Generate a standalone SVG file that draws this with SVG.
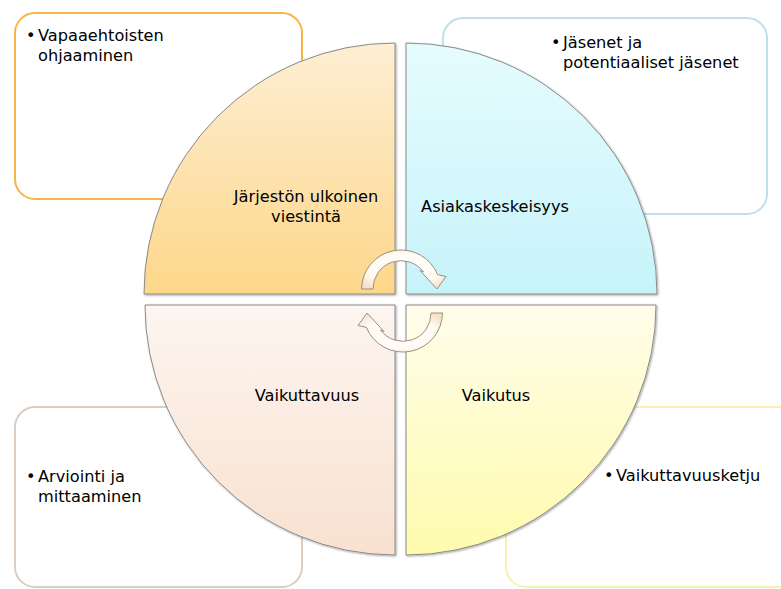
<svg xmlns="http://www.w3.org/2000/svg" width="781" height="589" viewBox="0 0 781 589">
  <defs>
    <style>
      text { font-family: "DejaVu Sans", "Liberation Sans", sans-serif; font-size: 16.2px; fill: #000; }
      .lbl { text-anchor: middle; }
      .box { fill: #fff; stroke-width: 2; }
      .quad { stroke: #8a8a8a; stroke-width: 1; filter: url(#shadow); }
      .arrow { fill: url(#gArrow); stroke: #9a8f82; stroke-width: 1; }
    </style>
    <filter id="shadow" x="-5%" y="-5%" width="110%" height="110%">
      <feDropShadow dx="1" dy="1" stdDeviation="0.8" flood-color="#000" flood-opacity="0.35"/>
    </filter>
    <linearGradient id="gTL" x1="0" y1="0" x2="0" y2="1">
      <stop offset="0" stop-color="#feeed3"/>
      <stop offset="1" stop-color="#fdd78a"/>
    </linearGradient>
    <linearGradient id="gTR" x1="0" y1="0" x2="0" y2="1">
      <stop offset="0" stop-color="#e6fcfe"/>
      <stop offset="1" stop-color="#c6f3fa"/>
    </linearGradient>
    <linearGradient id="gBL" x1="0" y1="0" x2="0" y2="1">
      <stop offset="0" stop-color="#fdf5f0"/>
      <stop offset="1" stop-color="#f8e1d0"/>
    </linearGradient>
    <linearGradient id="gBR" x1="0" y1="0" x2="0" y2="1">
      <stop offset="0" stop-color="#fffdea"/>
      <stop offset="1" stop-color="#fffbad"/>
    </linearGradient>
    <radialGradient id="gArrow" cx="0.5" cy="0.5" r="0.6">
      <stop offset="0" stop-color="#ffffff"/>
      <stop offset="0.7" stop-color="#fffaf3"/>
      <stop offset="1" stop-color="#f4e2c8"/>
    </radialGradient>
    <!-- clockwise half-turn arrow, reused for both turns -->
    <path id="turn" d="M361.5,289 A39.5,39.5 0 0 1 437.6,274.6 L446,276.5 L437,289 L420,270.5 L423.5,272 A28,28 0 0 0 373,289 Z"/>
  </defs>

  <!-- corner boxes -->
  <g id="box-tl">
    <rect class="box" x="15" y="13" width="287" height="186" rx="20" stroke="#f9b447"/>
    <text x="26" y="41">•</text>
    <text x="38" y="41">Vapaaehtoisten</text>
    <text x="38" y="61">ohjaaminen</text>
  </g>
  <g id="box-tr">
    <rect class="box" x="443" y="18" width="324" height="196" rx="20" stroke="#bde0ec"/>
    <text x="551" y="48">•</text>
    <text x="563" y="48">Jäsenet ja</text>
    <text x="563" y="68">potentiaaliset jäsenet</text>
  </g>
  <g id="box-bl">
    <rect class="box" x="15" y="407" width="287" height="180" rx="20" stroke="#dbcdc0"/>
    <text x="26" y="482">•</text>
    <text x="38" y="482">Arviointi ja</text>
    <text x="38" y="502">mittaaminen</text>
  </g>
  <g id="box-br">
    <rect class="box" x="506" y="407" width="300" height="180" rx="20" stroke="#fcefb3"/>
    <text x="604" y="481">•</text>
    <text x="616" y="481">Vaikuttavuusketju</text>
  </g>

  <!-- quarter segments -->
  <g id="quad-tl">
    <path class="quad" d="M395,294 L144,294 A251,251 0 0 1 395,43 Z" fill="url(#gTL)"/>
    <text class="lbl" x="306" y="202">Järjestön ulkoinen</text>
    <text class="lbl" x="306" y="222">viestintä</text>
  </g>
  <g id="quad-tr">
    <path class="quad" d="M406,294 L406,43 A251,251 0 0 1 657,294 Z" fill="url(#gTR)"/>
    <text class="lbl" x="495" y="212">Asiakaskeskeisyys</text>
  </g>
  <g id="quad-bl">
    <path class="quad" d="M395,305 L395,555 A250,250 0 0 1 145,305 Z" fill="url(#gBL)"/>
    <text class="lbl" x="307" y="401">Vaikuttavuus</text>
  </g>
  <g id="quad-br">
    <path class="quad" d="M406,305 L656,305 A250,250 0 0 1 406,555 Z" fill="url(#gBR)"/>
    <text class="lbl" x="496" y="401">Vaikutus</text>
  </g>

  <!-- circular arrows -->
  <g id="connectors">
    <use href="#turn" class="arrow"/>
    <use href="#turn" class="arrow" transform="rotate(180 402 301)"/>
  </g>
</svg>
